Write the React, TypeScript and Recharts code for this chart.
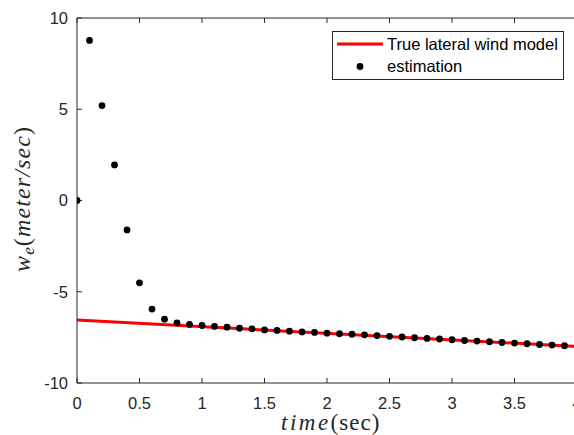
import React from 'react';
import { ComposedChart, Line, Scatter, XAxis, YAxis, Legend } from 'recharts';

const estTimes = [0, 0.1, 0.2, 0.3, 0.4, 0.5, 0.6, 0.7, 0.8, 0.9, 1.0, 1.1, 1.2, 1.3, 1.4, 1.5, 1.6, 1.7, 1.8, 1.9, 2.0, 2.1, 2.2, 2.3, 2.4, 2.5, 2.6, 2.7, 2.8, 2.9, 3.0, 3.1, 3.2, 3.3, 3.4, 3.5, 3.6, 3.7, 3.8, 3.9];
const estValues = [0, 8.77, 5.2, 1.95, -1.61, -4.51, -5.95, -6.5, -6.7, -6.79, -6.85, -6.9, -6.94, -7.0, -7.03, -7.09, -7.12, -7.16, -7.2, -7.23, -7.27, -7.3, -7.33, -7.36, -7.4, -7.44, -7.48, -7.52, -7.56, -7.59, -7.63, -7.67, -7.7, -7.74, -7.78, -7.81, -7.85, -7.89, -7.92, -7.96];

const modelTimes = [0, 4];
const modelValues = [-6.55, -8.0];

const xTicks = [0, 0.5, 1, 1.5, 2, 2.5, 3, 3.5, 4];
const yTicks = [-10, -5, 0, 5, 10];

const seriesNames = ['True lateral wind model', 'estimation'];

const estData = estTimes.map((t, i) => ({ t, v: estValues[i] }));
const modelData = modelTimes.map((t, i) => ({ t, v: modelValues[i] }));

const AX = '#262626';
const SANS = '"Liberation Sans", Arial, Helvetica, sans-serif';
const SERIF = '"Liberation Serif", "Times New Roman", serif';

const fmt = (v: number) => String(v);

const LegendBox = () => (
  <svg width={233} height={50} style={{ display: 'block' }}>
    <rect x={0.5} y={0.5} width={231} height={48} fill="#fff" stroke={AX} strokeWidth={1} />
    <line x1={5} x2={51} y1={13} y2={13} stroke="#ff0000" strokeWidth={3} />
    <text x={55} y={13} dy="0.35em" fontFamily={SANS} fontSize={16.5} fill="#000">{seriesNames[0]}</text>
    <circle cx={28} cy={35.5} r={3.4} fill="#000" />
    <text x={55} y={35.5} dy="0.35em" fontFamily={SANS} fontSize={16.5} fill="#000">{seriesNames[1]}</text>
  </svg>
);

const XTitle = () => (
  <text x={281} y={430} fontFamily={SERIF} fontSize={23} fill={AX} textAnchor="start">
    <tspan fontStyle="italic" letterSpacing={2.5}>time</tspan>
    <tspan letterSpacing={1}>(sec)</tspan>
  </text>
);

const YTitle = () => (
  <text x={0} y={0} transform="translate(30 199.5) rotate(-90)" fontFamily={SERIF} fontSize={24} fill={AX} textAnchor="middle" textLength={145} lengthAdjust="spacing">
    <tspan fontStyle="italic">w</tspan>
    <tspan fontStyle="italic" fontSize={17} dy={4}>e</tspan>
    <tspan dy={-4}>(</tspan>
    <tspan fontStyle="italic">meter/sec</tspan>
    <tspan>)</tspan>
  </text>
);

export default function App() {
  return (
    <div style={{ position: 'absolute', left: 0, top: 0 }}>
      <ComposedChart width={600} height={435} margin={{ top: 17, right: 23, bottom: 51, left: 76 }}>
        <XAxis
          dataKey="t"
          type="number"
          domain={[0, 4]}
          ticks={xTicks}
          tickFormatter={fmt}
          height={1}
          stroke={AX}
          tickSize={-5}
          tickMargin={19}
          tick={{ fontSize: 16.5, fill: AX, fontFamily: SANS }}
          label={{ content: () => <XTitle /> }}
          allowDataOverflow
        />
        <XAxis
          xAxisId="top"
          orientation="top"
          dataKey="t"
          type="number"
          domain={[0, 4]}
          ticks={xTicks}
          height={1}
          stroke={AX}
          tickSize={-5}
          tick={() => <g />}
          allowDataOverflow
        />
        <YAxis
          dataKey="v"
          type="number"
          domain={[-10, 10]}
          ticks={yTicks}
          tickFormatter={fmt}
          width={1}
          stroke={AX}
          tickSize={-5}
          tickMargin={14}
          tick={{ fontSize: 16.5, fill: AX, fontFamily: SANS }}
          label={{ content: () => <YTitle /> }}
          allowDataOverflow
        />
        <Legend
          layout="horizontal"
          verticalAlign="middle"
          align="center"
          content={() => <LegendBox />}
          wrapperStyle={{ position: 'absolute', left: 332, top: 31, width: 233, height: 50 }}
        />
        <Line
          data={modelData}
          dataKey="v"
          type="linear"
          stroke="#ff0000"
          strokeWidth={3}
          dot={false}
          isAnimationActive={false}
          name={seriesNames[0]}
        />
        <Scatter
          data={estData}
          dataKey="v"
          fill="#000"
          isAnimationActive={false}
          name={seriesNames[1]}
          shape={(p: any) => <circle cx={p.cx} cy={p.cy} r={3.4} fill="#000" />}
        />
      </ComposedChart>
    </div>
  );
}
